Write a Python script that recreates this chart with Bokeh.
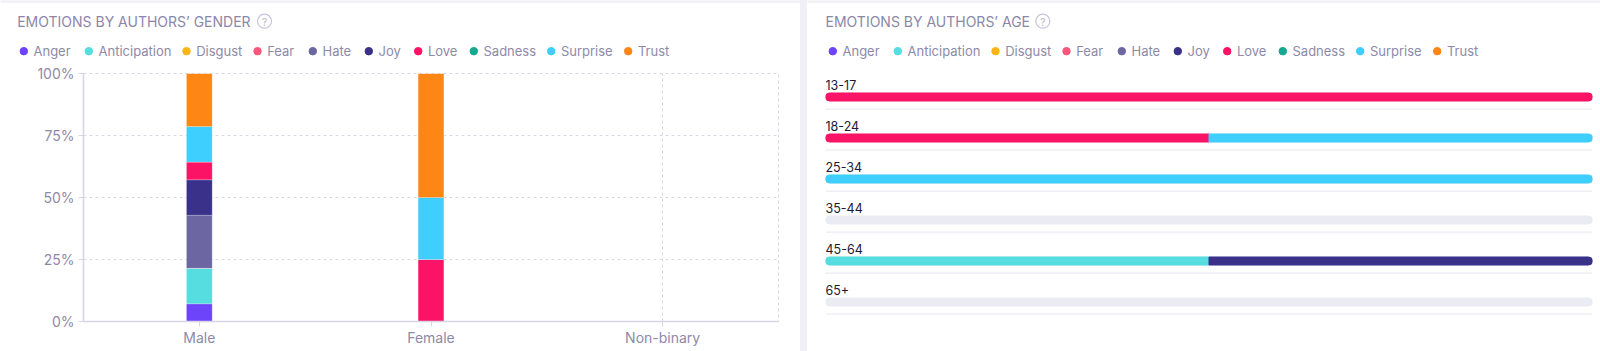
from bokeh.plotting import figure
from bokeh.models import FactorRange, Range1d, PrintfTickFormatter, ColumnDataSource, Spacer
from bokeh.layouts import row, column
from bokeh.transform import dodge
from bokeh.embed import file_html
from bokeh.resources import INLINE
from bokeh.core.properties import value

# ---------------- data ----------------
emotions = ["Anger", "Anticipation", "Disgust", "Fear", "Hate", "Joy", "Love", "Sadness", "Surprise", "Trust"]
emotion_colors = ["#6e44fa", "#55dde0", "#fdb515", "#f8577b", "#6c67a3",
                  "#39318a", "#fb1466", "#14a892", "#3fcffe", "#fe8615"]

genders = ["Male", "Female", "Non-binary"]
# share (%) of each emotion, in the order of `emotions`
male_share = [7.14, 14.29, 0, 0, 21.43, 14.29, 7.14, 0, 14.29, 21.43]
female_share = [0, 0, 0, 0, 0, 0, 25, 0, 25, 50]
nonbinary_share = [0, 0, 0, 0, 0, 0, 0, 0, 0, 0]

age_groups = ["13-17", "18-24", "25-34", "35-44", "45-64", "65+"]
# share (%) per age group, in the order of `age_groups`
anger_by_age = [0, 0, 0, 0, 0, 0]
anticipation_by_age = [0, 0, 0, 0, 50, 0]
disgust_by_age = [0, 0, 0, 0, 0, 0]
fear_by_age = [0, 0, 0, 0, 0, 0]
hate_by_age = [0, 0, 0, 0, 0, 0]
joy_by_age = [0, 0, 0, 0, 50, 0]
love_by_age = [100, 50, 0, 0, 0, 0]
sadness_by_age = [0, 0, 0, 0, 0, 0]
surprise_by_age = [0, 50, 100, 0, 0, 0]
trust_by_age = [0, 0, 0, 0, 0, 0]

y_ticks = [0, 25, 50, 75, 100]

# ---------------- style ----------------
FONT = value("Inter")
TITLE_COL = "#8b87a8"
LEG_COL = "#8d8aa8"
AXIS_COL = "#d6d4e7"
GRID_COL = "#d9d8e4"
HDR_H = 62
CH_H = 351 - HDR_H
leg_offsets = [0, 65, 162.7, 233.7, 289, 345, 394.4, 450, 527.4, 604.4]


def header(width, title, title_x, icon_x, dot_x0):
    h = figure(width=width, height=HDR_H, x_range=Range1d(0, width), y_range=Range1d(HDR_H, 0),
               output_backend="svg", toolbar_location=None, min_border=0,
               x_axis_location=None, y_axis_location=None, frame_align=False)
    h.grid.visible = False
    h.outline_line_color = None
    h.quad(left=[0], right=[width], top=[0], bottom=[1.7], color="#f1f0f6")
    h.text(x=[title_x], y=[20.7], text=[title], text_font=FONT, text_font_size="14px",
           text_color=TITLE_COL, text_baseline="middle", text_align="left")
    h.scatter(x=[icon_x], y=[20.7], size=14, marker="circle", fill_color=None,
              line_color="#c6c4da", line_width=1.2)
    h.text(x=[icon_x], y=[21], text=["?"], text_font=FONT, text_font_size="10px",
           text_color="#b4b2c9", text_baseline="middle", text_align="center")
    xs = [dot_x0 + o for o in leg_offsets]
    h.scatter(x=xs, y=[50.7] * len(xs), size=7.5, marker="circle", color=emotion_colors)
    h.text(x=[x + 9.7 for x in xs], y=[50.7] * len(xs), text=emotions, text_font=FONT,
           text_font_size="13px", text_color=LEG_COL, text_baseline="middle", text_align="left")
    return h


# ---------------- left: gender ----------------
hL = header(800, "EMOTIONS BY AUTHORS\u2019 GENDER", 16.7, 264, 23.3)

gsrc = {"gender": genders}
for i, e in enumerate(emotions):
    gsrc[e] = [male_share[i], female_share[i], nonbinary_share[i]]
gsrc = ColumnDataSource(gsrc)

pL = figure(width=800, height=CH_H, x_range=FactorRange(*genders), y_range=Range1d(0, 100),
            output_backend="svg", toolbar_location=None, frame_align=False,
            min_border_left=83, min_border_right=22, min_border_top=11, min_border_bottom=30)
pL.vbar_stack(emotions, x="gender", width=0.111, source=gsrc, fill_color=emotion_colors,
              line_color="white", line_alpha=0.35, line_width=0.6)
pL.outline_line_color = GRID_COL
pL.outline_line_dash = "3 3"
pL.outline_line_width = 1
for g in (pL.xgrid, pL.ygrid):
    g.grid_line_color = GRID_COL
    g.grid_line_dash = "3 3"
    g.grid_line_width = 1
pL.yaxis.ticker = y_ticks
pL.yaxis.formatter = PrintfTickFormatter(format="%d%%")
for ax in (pL.xaxis, pL.yaxis):
    ax.axis_line_color = AXIS_COL
    ax.axis_line_width = 1.5
    ax.major_tick_line_color = AXIS_COL
    ax.major_tick_out = 5
    ax.major_tick_in = 0
    ax.minor_tick_line_color = None
    ax.major_label_text_color = LEG_COL
    ax.major_label_text_font = "Inter"
    ax.major_label_text_font_size = "14px"
    ax.major_label_standoff = 4
pL.xaxis.major_label_standoff = 2

# ---------------- right: age ----------------
hR = header(793, "EMOTIONS BY AUTHORS\u2019 AGE", 18, 235.3, 25.3)

by_age = [anger_by_age, anticipation_by_age, disgust_by_age, fear_by_age, hate_by_age,
          joy_by_age, love_by_age, sadness_by_age, surprise_by_age, trust_by_age]

pR = figure(width=793, height=CH_H, x_range=Range1d(0, 100),
            y_range=FactorRange(*reversed(age_groups)),
            output_backend="svg", toolbar_location=None, frame_align=False,
            x_axis_location=None, y_axis_location=None,
            min_border_left=18, min_border_right=8, min_border_top=14, min_border_bottom=29)
pR.grid.visible = False
pR.outline_line_color = None

BAR_H = 8 / 41
asrc = ColumnDataSource({"age": age_groups})
pR.segment(x0=0, x1=100, y0=dodge("age", -0.295, range=pR.y_range),
           y1=dodge("age", -0.295, range=pR.y_range), source=asrc,
           line_color="#ebebf3", line_width=1.3)
pR.hbar(y="age", left=0, right=100, height=BAR_H, source=asrc, color="#ebebf4", border_radius=4)

# build stacked segments, grouped by which ends are rounded
groups = {"both": {"y": [], "l": [], "r": [], "c": []},
          "left": {"y": [], "l": [], "r": [], "c": []},
          "right": {"y": [], "l": [], "r": [], "c": []},
          "none": {"y": [], "l": [], "r": [], "c": []}}
for j, age in enumerate(age_groups):
    segs = []
    acc = 0
    for i, e in enumerate(emotions):
        v = by_age[i][j]
        if v > 0:
            segs.append((acc, acc + v, emotion_colors[i]))
            acc += v
    for k, (l, r, c) in enumerate(segs):
        first, last = k == 0, k == len(segs) - 1
        key = "both" if first and last else "left" if first else "right" if last else "none"
        grp = groups[key]
        grp["y"].append(age); grp["l"].append(l); grp["r"].append(r); grp["c"].append(c)

radii = {"both": 4, "left": (4, 0, 0, 4), "right": (0, 4, 4, 0), "none": 0}
for key, grp in groups.items():
    if grp["y"]:
        pR.hbar(y="y", left="l", right="r", height=BAR_H, color="c",
                source=ColumnDataSource(grp), border_radius=radii[key])

pR.text(x=[0] * len(age_groups), y=age_groups, text=age_groups, y_offset=-12.5,
        text_font=FONT, text_font_size="12.5px", text_color="#1c1838",
        text_baseline="middle", text_align="left")

sep = Spacer(width=7, height=351, styles={"background-color": "#efeff5"})

layout = row(column(hL, pL), sep, column(hR, pR))
open("out.html", "w").write(file_html(layout, INLINE))
